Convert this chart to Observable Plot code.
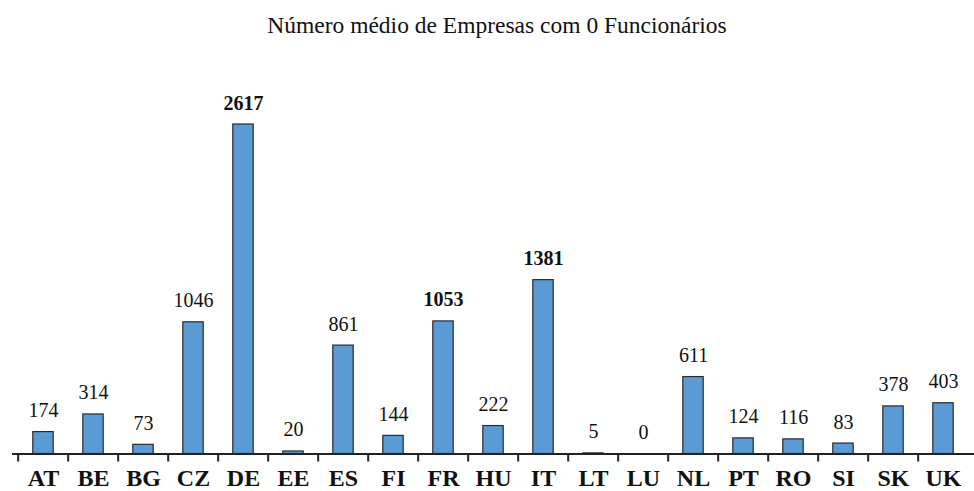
<!DOCTYPE html>
<html>
<head>
<meta charset="utf-8">
<script src="https://cdn.jsdelivr.net/npm/d3@7"></script>
<script src="https://cdn.jsdelivr.net/npm/@observablehq/plot@0.6"></script>
<style>
  body { margin: 0; background: #fff; }
  #title { height: 48px; box-sizing: border-box; padding-top: 12px; text-align: center;
    font-family: "Liberation Serif", "Times New Roman", serif; font-size: 23.5px; color: #111;
    width: 974px; padding-left: 20px; line-height: 1.15; }
</style>
</head>
<body>
<div id="title">Número médio de Empresas com 0 Funcionários</div>
<div id="chart"></div>
<script>
const countries = ["AT","BE","BG","CZ","DE","EE","ES","FI","FR","HU","IT","LT","LU","NL","PT","RO","SI","SK","UK"];
const values = [174,314,73,1046,2617,20,861,144,1053,222,1381,5,0,611,124,116,83,378,403];
const highlighted = ["DE","FR","IT"];

const data = countries.map((c, i) => ({country: c, value: values[i], bold: highlighted.includes(c)}));

const W = 974, H = 443, mL = 12, mR = 0, mT = 76, mB = 37.5;
const bw = (W - mL - mR) / countries.length;
const serif = '"Liberation Serif", "Times New Roman", serif';

const chart = Plot.plot({
  width: W, height: H,
  marginLeft: mL, marginRight: mR, marginTop: mT, marginBottom: mB,
  style: {fontFamily: serif, background: "#fff", overflow: "visible"},
  x: {domain: countries, padding: 0},
  y: {domain: [0, 2617], nice: false, axis: null},
  marks: [
    Plot.barY(data, {x: "country", y: "value", fill: "#5b9bd5", stroke: "#2a2a2a", strokeWidth: 1.2, insetLeft: 14.8, insetRight: 14.8}),
    Plot.text(data.filter(d => !d.bold), {x: "country", y: "value", text: d => String(d.value), lineAnchor: "bottom", dy: -15, fontSize: 20, fill: "#111"}),
    Plot.text(data.filter(d => d.bold), {x: "country", y: "value", text: d => String(d.value), lineAnchor: "bottom", dy: -15, fontSize: 20, fontWeight: "bold", fill: "#111"}),
    Plot.ruleY([0], {stroke: "#222", strokeWidth: 2}),
    Plot.axisX({tickSize: 8, tickFormat: () => "", dx: -bw / 2, stroke: "#222", strokeWidth: 2, label: null}),
    Plot.axisX({tickSize: 0, tickPadding: 15, fontSize: 24, fontWeight: "bold", fill: "#111", label: null})
  ]
});
document.getElementById("chart").appendChild(chart);
</script>
</body>
</html>
